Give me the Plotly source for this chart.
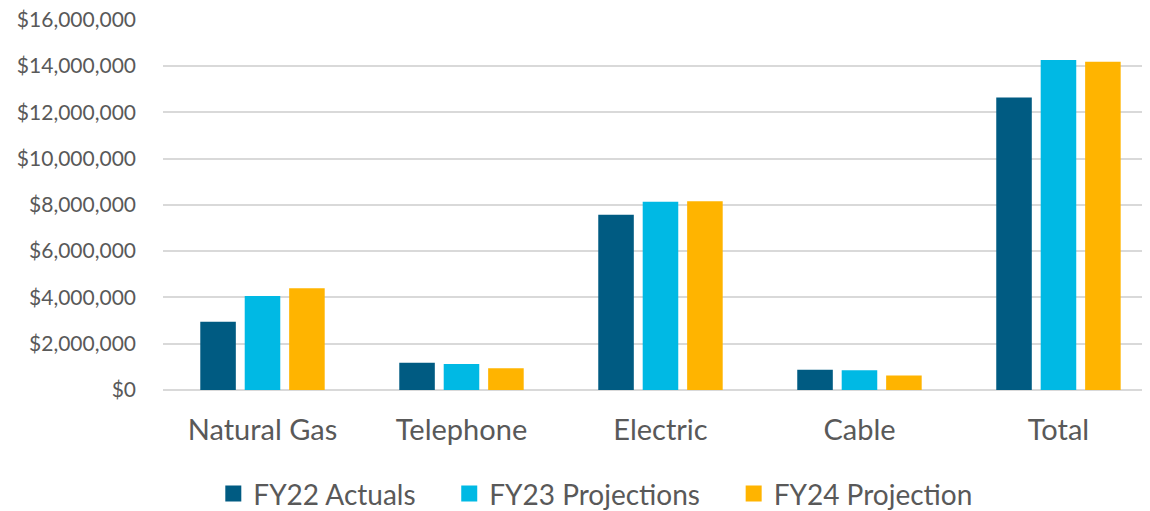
import plotly.graph_objs as go

categories = ["Natural Gas", "Telephone", "Electric", "Cable", "Total"]
fy22_actuals = [2950000, 1180000, 7570000, 880000, 12640000]
fy23_projections = [4060000, 1120000, 8130000, 850000, 14260000]
fy24_projection = [4400000, 940000, 8160000, 630000, 14180000]

series = [
    ("FY22 Actuals", fy22_actuals, "#005B82"),
    ("FY23 Projections", fy23_projections, "#00B9E4"),
    ("FY24 Projection", fy24_projection, "#FFB400"),
]

font_family = "Lato, 'Open Sans', sans-serif"
pad = "\u00a0" * 4  # widens the gap between legend entries

fig = go.Figure()
for name, values, color in series:
    fig.add_trace(go.Bar(
        x=categories,
        y=values,
        name=name,
        marker=dict(color=color, line=dict(width=0)),
        showlegend=False,
    ))

# legend-only entries so the swatches can be bigger squares
for i, (name, values, color) in enumerate(series):
    fig.add_trace(go.Scatter(
        x=[None],
        y=[None],
        mode="markers",
        name=name + (pad if i < len(series) - 1 else ""),
        marker=dict(symbol="square", size=18, color=color),
        hoverinfo="none",
    ))

# page body adds an 8px margin, so the figure is a bit smaller than the window
fig.update_layout(
    width=1142,
    height=503,
    margin=dict(l=155, r=0, t=11, b=121, autoexpand=False),
    plot_bgcolor="white",
    paper_bgcolor="white",
    barmode="group",
    bargap=0.33,
    bargroupgap=0.2,
    font=dict(family=font_family, color="#595959"),
    xaxis=dict(
        range=[-0.5, 4.46],
        showgrid=False,
        showline=False,
        ticks="",
        automargin=False,
        tickfont=dict(size=29, color="#595959"),
        ticklabelstandoff=20,
    ),
    yaxis=dict(
        range=[0, 16030000],
        tick0=0,
        dtick=2000000,
        tickprefix="$",
        tickformat=",.0f",
        ticklabeloverflow="allow",
        showgrid=True,
        gridcolor="#D9D9D9",
        gridwidth=1.5,
        zeroline=True,
        zerolinecolor="#D9D9D9",
        zerolinewidth=1.5,
        automargin=False,
        tickfont=dict(size=21, color="#595959"),
        ticklabelstandoff=26,
    ),
    legend=dict(
        orientation="h",
        x=0.438,
        xanchor="center",
        y=-0.28,
        yanchor="middle",
        font=dict(size=28, color="#595959"),
        itemwidth=30,
        traceorder="normal",
    ),
)

fig.write_html("out.html")
